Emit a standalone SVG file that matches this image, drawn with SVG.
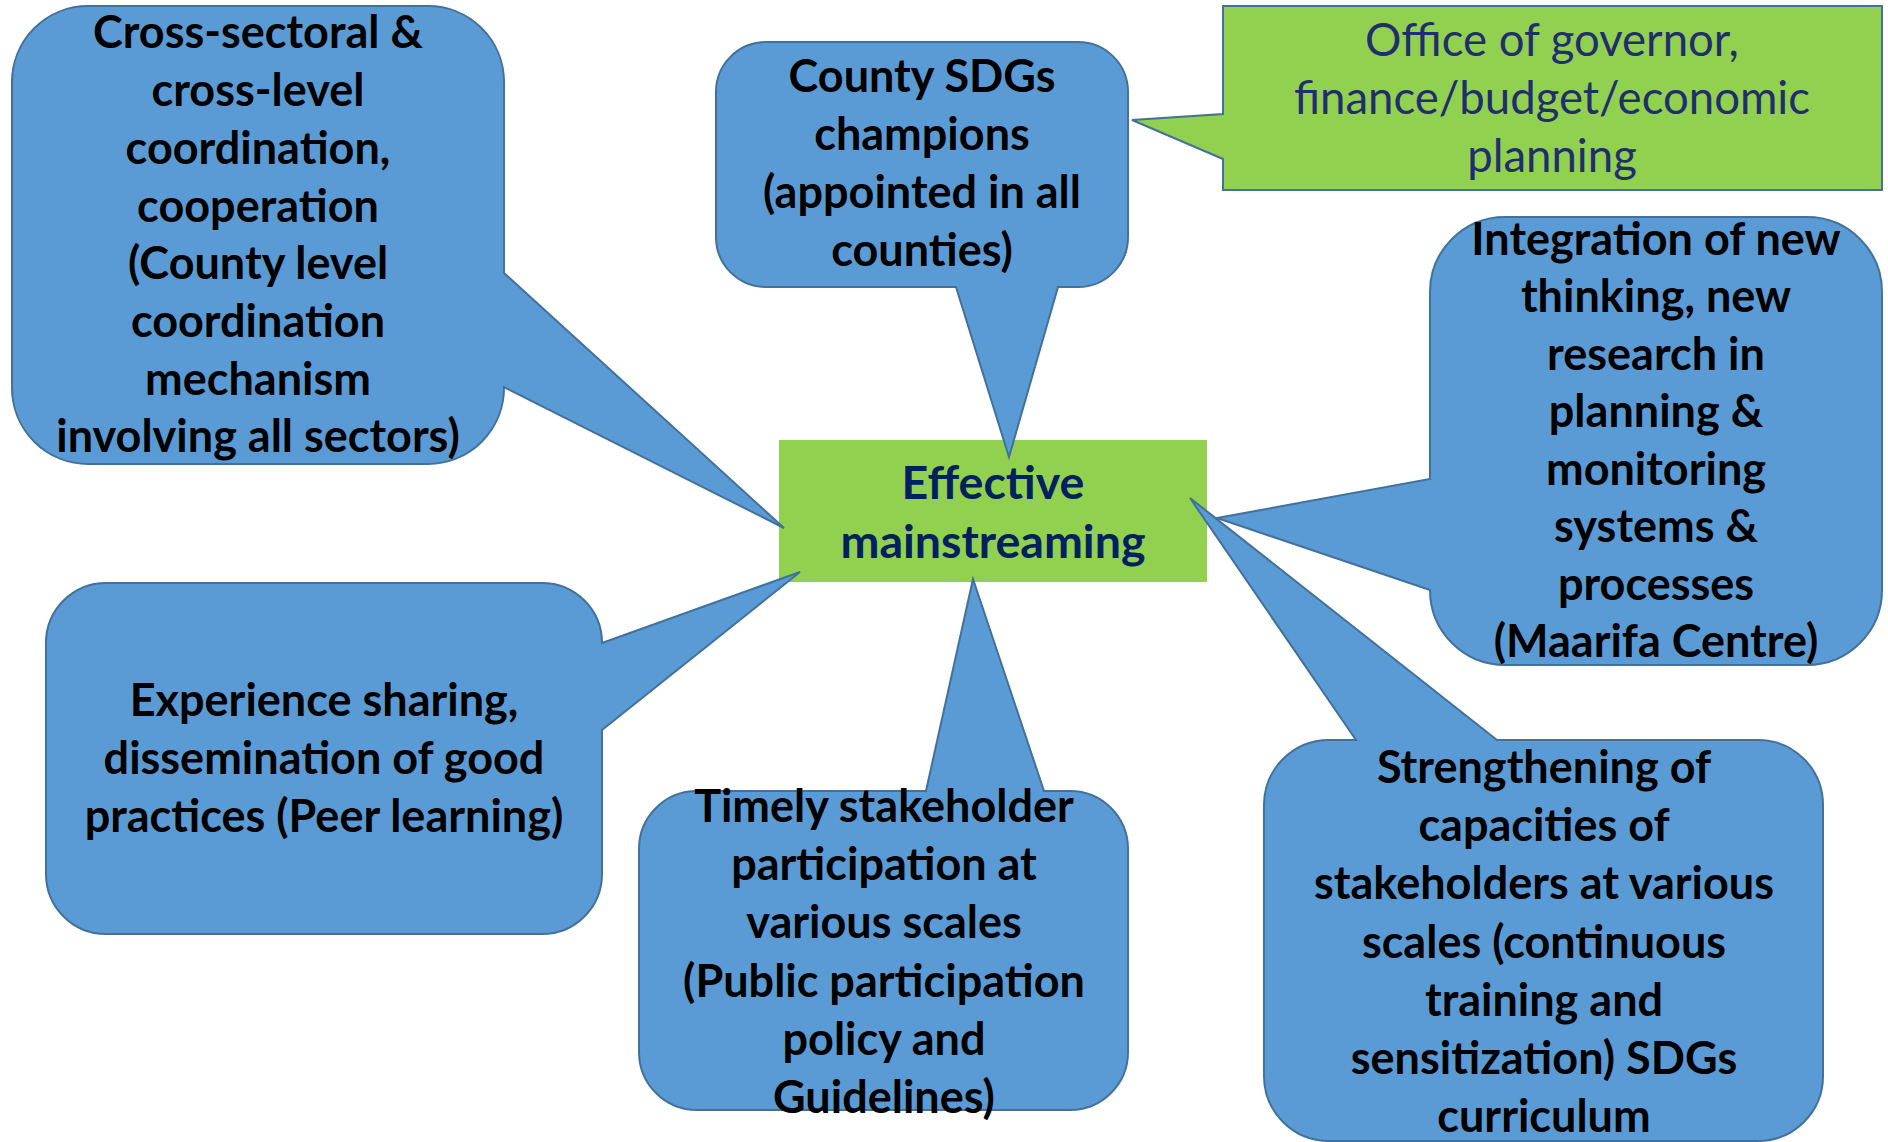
<svg xmlns="http://www.w3.org/2000/svg" width="1888" height="1142" viewBox="0 0 1888 1142">
<style>
.callout{fill:#5B9BD5;stroke:#41719C;stroke-width:2;stroke-linejoin:miter}
.green{fill:#92D050}
.gstroke{stroke:#41719C;stroke-width:2}
text{font-family:Lato,"Liberation Sans",sans-serif;font-size:45px;text-anchor:middle}
.b{font-weight:bold;fill:#000}
.navyb{font-weight:bold;fill:#002060;font-size:46.5px}
.navy{font-weight:normal;fill:#1F2F6E;font-size:45.5px}
</style>
<rect width="1888" height="1142" fill="#fff"/>
<g id="effective">
<rect class="green" x="779" y="440" width="428" height="142"/>
<text class="navyb"><tspan x="993" y="499">Effective</tspan><tspan x="993" y="558">mainstreaming</tspan></text>
</g>
<g id="cross-sectoral">
<path class="callout" d="M88,6 H428 A76,76 0 0 1 504,82 V273 L784,528 L504,387 V388 A76,76 0 0 1 428,464 H88 A76,76 0 0 1 12,388 V82 A76,76 0 0 1 88,6 Z"/>
<text class="b"><tspan x="258" y="48">Cross-sectoral &amp;</tspan><tspan x="258" y="106">cross-level</tspan><tspan x="258" y="164">coordination,</tspan><tspan x="258" y="222">cooperation</tspan><tspan x="258" y="279">(County level</tspan><tspan x="258" y="337">coordination</tspan><tspan x="258" y="395">mechanism</tspan><tspan x="258" y="452">involving all sectors)</tspan></text>
</g>
<g id="county-champions">
<path class="callout" d="M766,42 H1078 A50,50 0 0 1 1128,92 V237 A50,50 0 0 1 1078,287 H1058 L1009,457 L956,287 H766 A50,50 0 0 1 716,237 V92 A50,50 0 0 1 766,42 Z"/>
<text class="b"><tspan x="922" y="92">County SDGs</tspan><tspan x="922" y="150">champions</tspan><tspan x="922" y="208">(appointed in all</tspan><tspan x="922" y="266">counties)</tspan></text>
</g>
<g id="office-governor">
<path class="green gstroke" d="M1223,6 H1882 V190 H1223 V159 L1132,120 L1223,114 Z"/>
<text class="navy"><tspan x="1552" y="56">Office of governor,</tspan><tspan x="1552" y="114">finance/budget/economic</tspan><tspan x="1552" y="172">planning</tspan></text>
</g>
<g id="integration">
<path class="callout" d="M1505,217 H1807 A75,75 0 0 1 1882,292 V590 A75,75 0 0 1 1807,665 H1505 A75,75 0 0 1 1430,590 L1217,518 L1430,479 V292 A75,75 0 0 1 1505,217 Z"/>
<text class="b"><tspan x="1656" y="255">Integration of new</tspan><tspan x="1656" y="312">thinking, new</tspan><tspan x="1656" y="370">research in</tspan><tspan x="1656" y="427">planning &amp;</tspan><tspan x="1656" y="485">monitoring</tspan><tspan x="1656" y="542">systems &amp;</tspan><tspan x="1656" y="600">processes</tspan><tspan x="1656" y="657">(Maarifa Centre)</tspan></text>
</g>
<g id="experience-sharing">
<path class="callout" d="M106,583 H542 A60,60 0 0 1 602,643 L800,572 L602,730 V874 A60,60 0 0 1 542,934 H106 A60,60 0 0 1 46,874 V643 A60,60 0 0 1 106,583 Z"/>
<text class="b"><tspan x="324" y="716">Experience sharing,</tspan><tspan x="324" y="774">dissemination of good</tspan><tspan x="324" y="832">practices (Peer learning)</tspan></text>
</g>
<g id="stakeholder-participation">
<path class="callout" d="M697,791 H926 L973,579 L1044,791 H1070 A58,58 0 0 1 1128,849 V1052 A58,58 0 0 1 1070,1110 H697 A58,58 0 0 1 639,1052 V849 A58,58 0 0 1 697,791 Z"/>
<text class="b"><tspan x="884" y="822">Timely stakeholder</tspan><tspan x="884" y="880">participation at</tspan><tspan x="884" y="938">various scales</tspan><tspan x="884" y="997">(Public participation</tspan><tspan x="884" y="1055">policy and</tspan><tspan x="884" y="1113">Guidelines)</tspan></text>
</g>
<g id="strengthening-capacities">
<path class="callout" d="M1329,740 H1356 L1190,498 L1497,740 H1758 A65,65 0 0 1 1823,805 V1076 A65,65 0 0 1 1758,1141 H1329 A65,65 0 0 1 1264,1076 V805 A65,65 0 0 1 1329,740 Z"/>
<text class="b"><tspan x="1544" y="783">Strengthening of</tspan><tspan x="1544" y="841">capacities of</tspan><tspan x="1544" y="899">stakeholders at various</tspan><tspan x="1544" y="958">scales (continuous</tspan><tspan x="1544" y="1016">training and</tspan><tspan x="1544" y="1074">sensitization) SDGs</tspan><tspan x="1544" y="1132">curriculum</tspan></text>
</g>
</svg>
